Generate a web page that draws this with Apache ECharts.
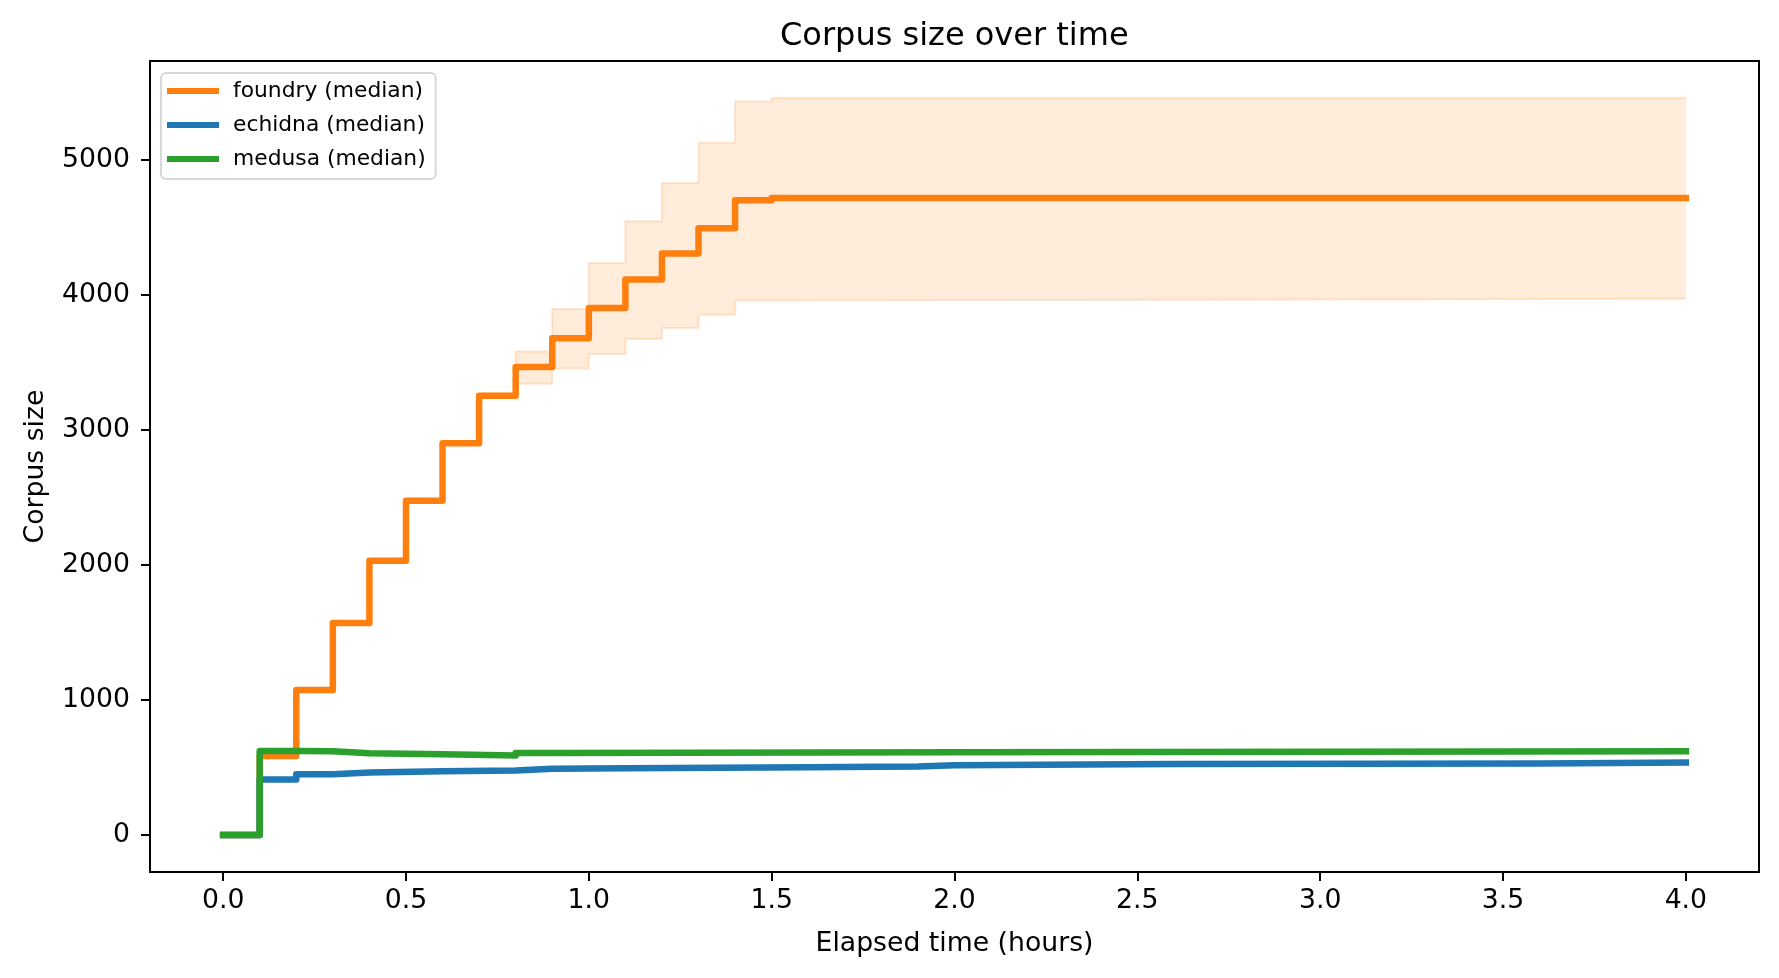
<!DOCTYPE html>
<html>
<head>
<meta charset="utf-8">
<script src="https://cdn.jsdelivr.net/npm/echarts@6/dist/echarts.min.js"></script>
<style>
  html, body { margin: 0; padding: 0; background: #fff; }
  #chart { width: 1779px; height: 978px; }
</style>
</head>
<body>
<div id="chart"></div>
<script>
// values (hours, corpus size), step changes only
var foundryTime = [0, 0.1, 0.2, 0.3, 0.4, 0.5, 0.6, 0.7, 0.8, 0.9, 1.0, 1.1, 1.2, 1.3, 1.4, 1.5, 4.0]
var foundryMedian = [0, 585, 1075, 1570, 2030, 2475, 2900, 3253, 3465, 3678, 3902, 4112, 4305, 4492, 4700, 4716, 4716]
var foundryLow = [0, 585, 1075, 1570, 2030, 2475, 2900, 3253, 3341, 3454, 3561, 3672, 3753, 3852, 3958, 3970, 3970]
var foundryHigh = [0, 585, 1075, 1585, 2045, 2490, 2915, 3268, 3580, 3894, 4235, 4543, 4827, 5124, 5430, 5457, 5457]

var echidnaTime = [0, 0.1, 0.2, 0.3, 0.4, 0.6, 0.8, 0.9, 1.1, 1.6, 1.9, 2.0, 2.6, 3.6, 4.0]
var echidnaMedian = [0, 412, 450, 464, 472, 479, 491, 495, 502, 508, 517, 526, 530, 538, 538]

var medusaTime = [0, 0.1, 0.2, 0.3, 0.4, 0.6, 0.8, 0.9, 2.0, 4.0]
var medusaMedian = [0, 622, 620, 606, 598, 590, 607, 613, 620, 620]

var xTicks = [0, 0.5, 1.0, 1.5, 2.0, 2.5, 3.0, 3.5, 4.0]
var yTicks = [0, 1000, 2000, 3000, 4000, 5000]

var FONT = 'DejaVu Sans'
var BAND_EDGE = 'rgba(255,127,14,0.18)'

function pairs(xs, ys) {
  var out = []
  for (var i = 0; i < xs.length; i++) out.push([xs[i], ys[i]])
  return out
}

// band edge series: upper fills pale orange down to 0, lower paints white over it
function bandEdge(name, ys, fill) {
  return {
    name: name,
    type: 'line',
    step: 'end',
    showSymbol: false,
    silent: true,
    data: pairs(foundryTime, ys),
    lineStyle: { width: 2, color: BAND_EDGE },
    areaStyle: { color: fill, opacity: 1, origin: 0 },
    emphasis: { disabled: true }
  }
}

function medianLine(name, color, xs, ys) {
  return {
    name: name,
    type: 'line',
    step: 'end',
    showSymbol: false,
    color: color,
    data: pairs(xs, ys),
    lineStyle: { width: 6.5, color: color, cap: 'square', join: 'round' },
    emphasis: { disabled: true },
    silent: true
  }
}

var chart = echarts.init(document.getElementById('chart'), null, { renderer: 'canvas' })

var option = {
  animation: false,
  backgroundColor: '#fff',
  title: {
    text: 'Corpus size over time',
    left: 780,
    top: 21,
    padding: 0,
    textStyle: { fontFamily: FONT, fontSize: 32, fontWeight: 'normal', color: '#000' }
  },
  legend: {
    data: ['foundry (median)', 'echidna (median)', 'medusa (median)'],
    orient: 'vertical',
    left: 161,
    top: 73,
    padding: [7, 10, 9, 6],
    itemGap: 12,
    itemWidth: 52,
    itemHeight: 6,
    icon: 'rect',
    backgroundColor: '#fff',
    borderColor: '#d8d8d8',
    borderWidth: 2,
    borderRadius: 5,
    selectedMode: false,
    textStyle: { fontFamily: FONT, fontSize: 21.8, color: '#000', padding: [0, 0, 0, 9] }
  },
  grid: {
    left: 150,
    right: 20,
    top: 61,
    bottom: 106,
    show: true,
    borderColor: '#000',
    borderWidth: 2,
    backgroundColor: 'transparent',
    outerBoundsMode: 'none'
  },
  xAxis: {
    type: 'value',
    min: -0.2,
    max: 4.2,
    name: 'Elapsed time (hours)',
    nameLocation: 'middle',
    nameGap: 59,
    nameTextStyle: { fontFamily: FONT, fontSize: 26.7, color: '#000' },
    splitLine: { show: false },
    axisLine: { show: true, onZero: false, lineStyle: { color: '#000', width: 2 } },
    axisTick: { show: true, length: 9, customValues: xTicks, lineStyle: { color: '#000', width: 2 } },
    axisLabel: {
      customValues: xTicks,
      margin: 16,
      fontFamily: FONT,
      fontSize: 26.7,
      color: '#000',
      formatter: function (v) { return v.toFixed(1) }
    }
  },
  yAxis: {
    type: 'value',
    min: -273,
    max: 5730,
    name: 'Corpus size',
    nameLocation: 'middle',
    nameGap: 100,
    nameTextStyle: { fontFamily: FONT, fontSize: 26.7, color: '#000' },
    splitLine: { show: false },
    axisLine: { show: true, onZero: false, lineStyle: { color: '#000', width: 2 } },
    axisTick: { show: true, length: 9, customValues: yTicks, lineStyle: { color: '#000', width: 2 } },
    axisLabel: {
      customValues: yTicks,
      margin: 20,
      fontFamily: FONT,
      fontSize: 26.7,
      color: '#000',
      formatter: function (v) { return String(v) }
    }
  },
  series: [
    bandEdge('foundry band high', foundryHigh, 'rgba(255,127,14,0.15)'),
    bandEdge('foundry band low', foundryLow, '#ffffff'),
    medianLine('foundry (median)', '#ff7f0e', foundryTime, foundryMedian),
    medianLine('echidna (median)', '#1f77b4', echidnaTime, echidnaMedian),
    medianLine('medusa (median)', '#2ca02c', medusaTime, medusaMedian)
  ]
}

chart.setOption(option)
</script>
</body>
</html>
